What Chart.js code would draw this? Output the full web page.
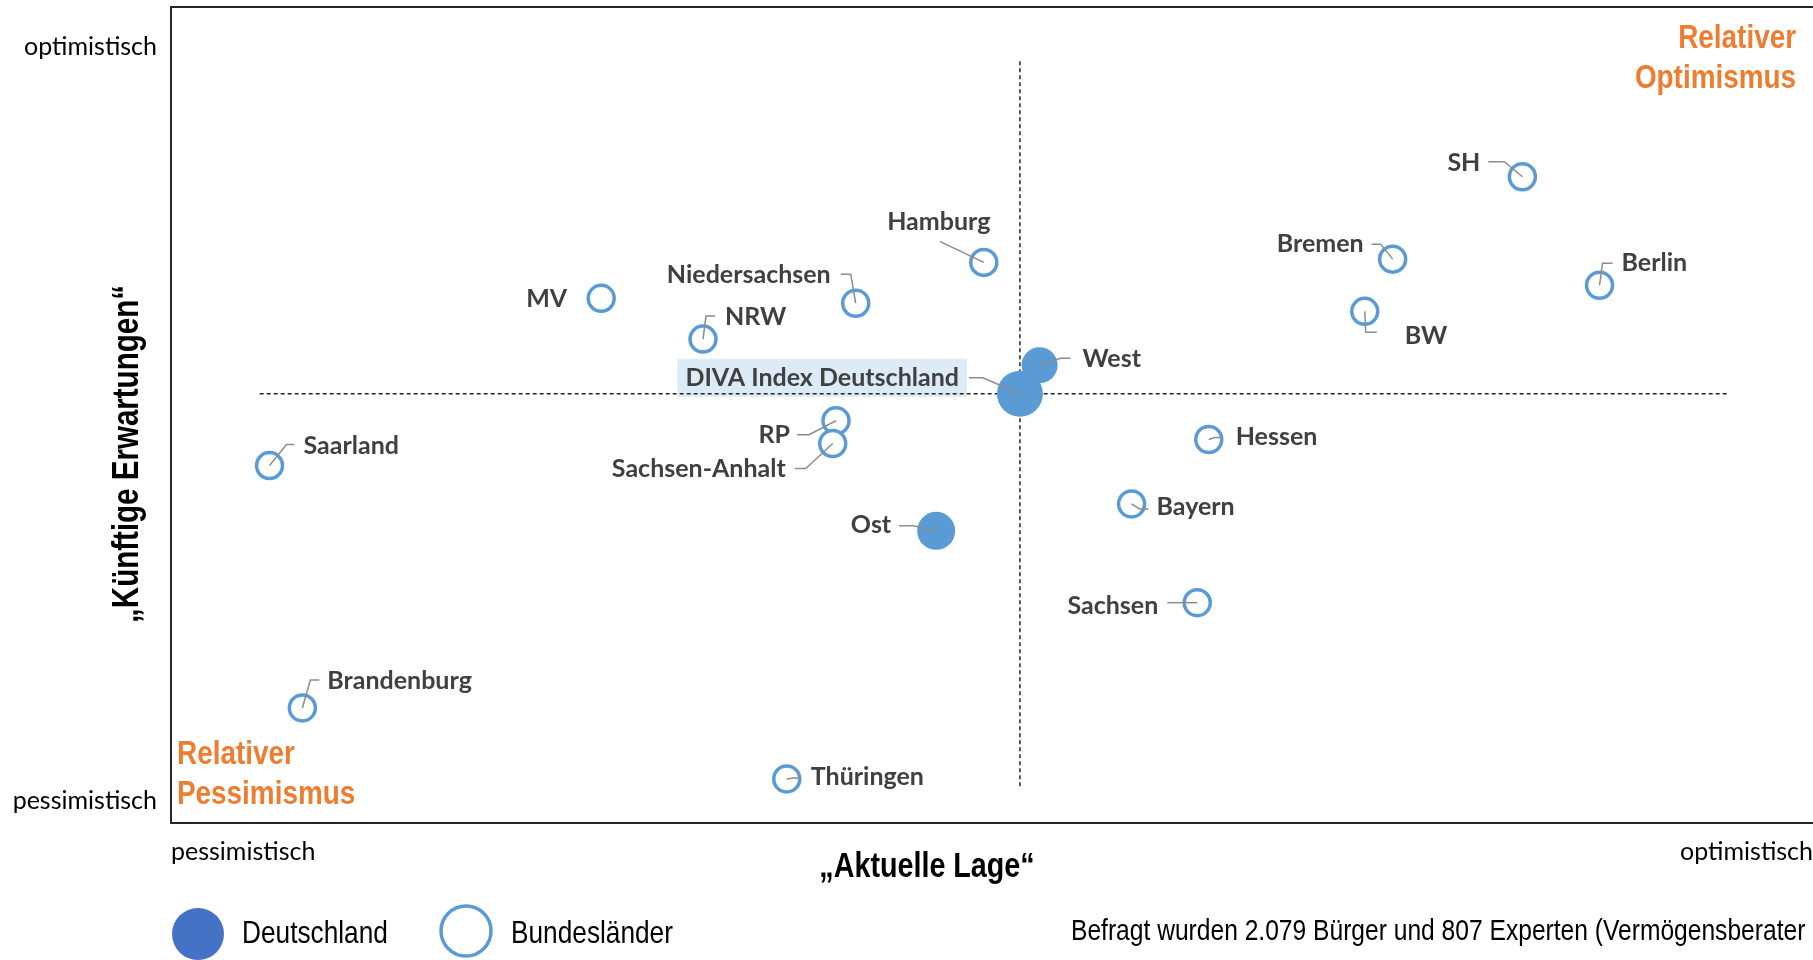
<!DOCTYPE html>
<html lang="de">
<head>
<meta charset="utf-8">
<title>DIVA Index – Bundesländer</title>
<script src="https://cdn.jsdelivr.net/npm/chart.js@4.4.1/dist/chart.umd.min.js"></script>
<style>
  html, body { margin: 0; padding: 0; background: #fff; }
  #wrap { position: relative; width: 1813px; height: 960px; }
</style>
</head>
<body>
<div id="wrap"><canvas id="chart" width="1813" height="960"></canvas></div>
<script>
// --- Daten (Skala 0–100, x = aktuelle Lage, y = künftige Erwartungen) ---
const laender = ['SH', 'Bremen', 'Berlin', 'BW', 'Hamburg', 'Niedersachsen', 'MV', 'NRW',
                 'RP', 'Sachsen-Anhalt', 'Saarland', 'Hessen', 'Bayern', 'Sachsen', 'Brandenburg', 'Thüringen'];
const laenderLage      = [82.3, 74.4, 87.0, 72.7, 49.5, 41.7, 26.2, 32.4, 40.5, 40.3, 6.0, 63.2, 58.5, 62.5, 8.0, 37.5];
const laenderErwartung = [79.2, 69.1, 65.9, 62.7, 68.7, 63.7, 64.3, 59.3, 49.3, 46.5, 43.8, 47.0, 39.1, 27.0, 14.1, 5.4];

const regionen          = ['DIVA Index Deutschland', 'West', 'Ost'];
const regionenLage      = [51.7, 52.9, 46.6];
const regionenErwartung = [52.6, 56.1, 35.8];

// Mittellinien (Ausdehnung in Achseneinheiten)
const mitteBereichX = [5.4, 94.8];
const mitteBereichY = [4.5, 93.5];

// Achsenbeschriftungen
const xTickLabels = ['pessimistisch', 'optimistisch'];
const xTickWerte  = [0, 100];
const yTickLabels = ['pessimistisch', 'optimistisch'];
const yTickWerte  = [2.7, 95.1];

// --- Stil / Layout ---
const BLAU = '#5B9BD5';
const BLAU_DUNKEL = '#4472C4';
const ORANGE = '#ED7D31';
const regionenRadius = [23, 18, 19];

// Beschriftungen: Versatz des Textes zum Punkt (px) + Knickpunkte der Führungslinie
const labelLayout = {
    'SH':             { dx: -42, dy: -14, align: 'right',  leader: [[-34, -15], [-18, -15]] },
    'Bremen':         { dx: -29, dy: -15, align: 'right',  leader: [[-21, -15], [-12, -15]] },
    'Berlin':         { dx: 22,  dy: -22, align: 'left',   leader: [[13, -22], [3, -22]] },
    'BW':             { dx: 40,  dy: 25,  align: 'left',   leader: [[12, 21], [1, 21]] },
    'Hamburg':        { dx: -45, dy: -40, align: 'center', leader: [[-44, -21]] },
    'Niedersachsen':  { dx: -25, dy: -28, align: 'right',  leader: [[-15, -29], [-5, -29]] },
    'MV':             { dx: -34, dy: 1,   align: 'right',  leader: [] },
    'NRW':            { dx: 22,  dy: -22, align: 'left',   leader: [[12, -23], [3, -23]] },
    'RP':             { dx: -46, dy: 14,  align: 'right',  leader: [[-39, 14], [-27, 14]] },
    'Sachsen-Anhalt': { dx: -47, dy: 25,  align: 'right',  leader: [[-38, 25], [-27, 25]] },
    'Saarland':       { dx: 34,  dy: -20, align: 'left',   leader: [[25, -21], [17, -21]] },
    'Hessen':         { dx: 27,  dy: -3,  align: 'left',   leader: [[14, -2], [6, -2]] },
    'Bayern':         { dx: 25,  dy: 3,   align: 'left',   leader: [[17, 5], [8, 5]] },
    'Sachsen':        { dx: -39, dy: 3,   align: 'right',  leader: [[-30, 0]] },
    'Brandenburg':    { dx: 25,  dy: -27, align: 'left',   leader: [[17, -28], [8, -28]] },
    'Thüringen':      { dx: 24,  dy: -2,  align: 'left',   leader: [[14, -1], [7, -1]] },
    'DIVA Index Deutschland': { dx: -61, dy: -16, align: 'right', leader: [[-51, -16], [-37, -16]] },
    'West':           { dx: 43,  dy: -6,  align: 'left',   leader: [[31, -7], [21, -7]] },
    'Ost':            { dx: -45, dy: -6,  align: 'right',  leader: [[-37, -5], [-23, -5]] }
};

function punkte(xs, ys) {
    return xs.map((x, i) => ({ x: x, y: ys[i] }));
}

// Schmale Schrift (wie Arial Narrow): Liberation Sans horizontal gestaucht
function schmalText(ctx, text, x, y, align, size, bold) {
    ctx.save();
    ctx.font = (bold ? 'bold ' : '') + size + 'px "Liberation Sans", Arial, sans-serif';
    ctx.textAlign = align;
    ctx.textBaseline = 'middle';
    ctx.translate(x, y);
    ctx.scale(0.82, 1);
    ctx.fillText(text, 0, 0);
    ctx.restore();
}

// Auto-Padding der Achsen ausschalten, damit der Rahmen exakt sitzt
function ohnePadding(scale) {
    scale.paddingTop = 0;
    scale.paddingBottom = 0;
    scale.paddingLeft = 0;
    scale.paddingRight = 0;
}

// Beschriftungen, Rahmen, Titel und Legende
const dekoPlugin = {
    id: 'deko',
    beforeDatasetsDraw(chart) {
        // hellblauer Kasten hinter "DIVA Index Deutschland"
        const ctx = chart.ctx;
        const el = chart.getDatasetMeta(0).data[0];
        const lay = labelLayout[regionen[0]];
        ctx.save();
        ctx.font = 'bold 25px Lato';
        const w = ctx.measureText(regionen[0]).width;
        ctx.fillStyle = '#DDEBF7';
        ctx.fillRect(el.x + lay.dx - w - 8, el.y + lay.dy - 19, w + 16, 38);
        ctx.restore();
    },
    afterDatasetsDraw(chart) {
        const ctx = chart.ctx;
        ctx.save();
        [[0, regionen], [1, laender]].forEach(([di, namen]) => {
            chart.getDatasetMeta(di).data.forEach((el, i) => {
                const lay = labelLayout[namen[i]];
                if (!lay) return;
                // Führungslinie
                if (lay.leader.length) {
                    ctx.strokeStyle = '#8c8c8c';
                    ctx.lineWidth = 1.5;
                    ctx.beginPath();
                    lay.leader.forEach(([lx, ly], k) => {
                        if (k === 0) ctx.moveTo(el.x + lx, el.y + ly);
                        else ctx.lineTo(el.x + lx, el.y + ly);
                    });
                    ctx.lineTo(el.x, el.y);
                    ctx.stroke();
                }
                ctx.font = 'bold 25px Lato';
                ctx.fillStyle = '#404040';
                ctx.textAlign = lay.align;
                ctx.textBaseline = 'middle';
                ctx.fillText(namen[i], el.x + lay.dx, el.y + lay.dy);
            });
        });
        ctx.restore();
    },
    afterDraw(chart) {
        const ctx = chart.ctx;
        const a = chart.chartArea;
        ctx.save();
        // obere Rahmenlinie
        ctx.strokeStyle = '#262626';
        ctx.lineWidth = 2;
        ctx.beginPath();
        ctx.moveTo(a.left, a.top);
        ctx.lineTo(chart.width, a.top);
        ctx.stroke();

        // Quadranten
        ctx.fillStyle = ORANGE;
        schmalText(ctx, 'Relativer', a.right - 17, a.top + 32, 'right', 34, true);
        schmalText(ctx, 'Optimismus', a.right - 17, a.top + 72, 'right', 34, true);
        schmalText(ctx, 'Relativer', a.left + 6, a.bottom - 68, 'left', 34, true);
        schmalText(ctx, 'Pessimismus', a.left + 6, a.bottom - 28, 'left', 34, true);

        // Achsentitel
        ctx.fillStyle = '#000';
        schmalText(ctx, '\u201EAktuelle Lage\u201C', 927, a.bottom + 44, 'center', 35, true);
        ctx.save();
        ctx.translate(128, 454);
        ctx.rotate(-Math.PI / 2);
        schmalText(ctx, '\u201EKünftige Erwartungen\u201C', 0, 0, 'center', 36, true);
        ctx.restore();

        // Legende
        ctx.fillStyle = BLAU_DUNKEL;
        ctx.beginPath();
        ctx.arc(198, 934, 26, 0, Math.PI * 2);
        ctx.fill();
        ctx.strokeStyle = BLAU;
        ctx.lineWidth = 3.5;
        ctx.beginPath();
        ctx.arc(466, 931, 25, 0, Math.PI * 2);
        ctx.stroke();
        ctx.fillStyle = '#000';
        schmalText(ctx, 'Deutschland', 242, 934, 'left', 32, false);
        schmalText(ctx, 'Bundesländer', 511, 934, 'left', 32, false);

        // Fußnote
        schmalText(ctx, 'Befragt wurden 2.079 Bürger und 807 Experten (Vermögensberater', 1071, 932, 'left', 30, false);
        ctx.restore();
    }
};

const ctx = document.getElementById('chart').getContext('2d');
new Chart(ctx, {
    type: 'scatter',
    data: {
        datasets: [
            {
                label: 'Deutschland',
                data: punkte(regionenLage, regionenErwartung),
                backgroundColor: BLAU,
                borderColor: BLAU,
                borderWidth: 0,
                pointRadius: regionenRadius,
                order: 1
            },
            {
                label: 'Bundesländer',
                data: punkte(laenderLage, laenderErwartung),
                backgroundColor: '#ffffff',
                borderColor: BLAU,
                borderWidth: 3.5,
                pointRadius: 13,
                order: 0
            },
            {
                type: 'line',
                label: 'mitte-x',
                data: [{ x: regionenLage[0], y: mitteBereichY[0] }, { x: regionenLage[0], y: mitteBereichY[1] }],
                borderColor: '#262626',
                borderWidth: 1.5,
                borderDash: [4, 3],
                pointRadius: 0,
                order: 5
            },
            {
                type: 'line',
                label: 'mitte-y',
                data: [{ x: mitteBereichX[0], y: regionenErwartung[0] }, { x: mitteBereichX[1], y: regionenErwartung[0] }],
                borderColor: '#262626',
                borderWidth: 1.5,
                borderDash: [4, 3],
                pointRadius: 0,
                order: 5
            }
        ]
    },
    options: {
        responsive: false,
        animation: false,
        layout: { autoPadding: false, padding: { left: 0, top: 7, right: 0, bottom: 77 } },
        scales: {
            x: {
                type: 'linear',
                min: 0,
                max: 100,
                afterBuildTicks(scale) { scale.ticks = xTickWerte.map(v => ({ value: v })); },
                afterFit(scale) { scale.height = 60; ohnePadding(scale); },
                grid: { display: false, drawTicks: false },
                border: { display: true, color: '#262626', width: 2 },
                ticks: {
                    align: 'inner',
                    padding: 14,
                    maxRotation: 0,
                    autoSkip: false,
                    color: '#000',
                    font: { family: 'Lato', size: 25 },
                    callback: (v, i) => xTickLabels[i]
                }
            },
            y: {
                type: 'linear',
                min: 0,
                max: 100,
                afterBuildTicks(scale) { scale.ticks = yTickWerte.map(v => ({ value: v })); },
                afterFit(scale) { scale.width = 171; ohnePadding(scale); },
                grid: { display: false, drawTicks: false },
                border: { display: true, color: '#262626', width: 2 },
                ticks: {
                    padding: 14,
                    autoSkip: false,
                    color: '#000',
                    font: { family: 'Lato', size: 25 },
                    callback: (v, i) => yTickLabels[i]
                }
            }
        },
        plugins: {
            legend: { display: false },
            tooltip: { enabled: false }
        }
    },
    plugins: [dekoPlugin]
});
</script>
</body>
</html>
